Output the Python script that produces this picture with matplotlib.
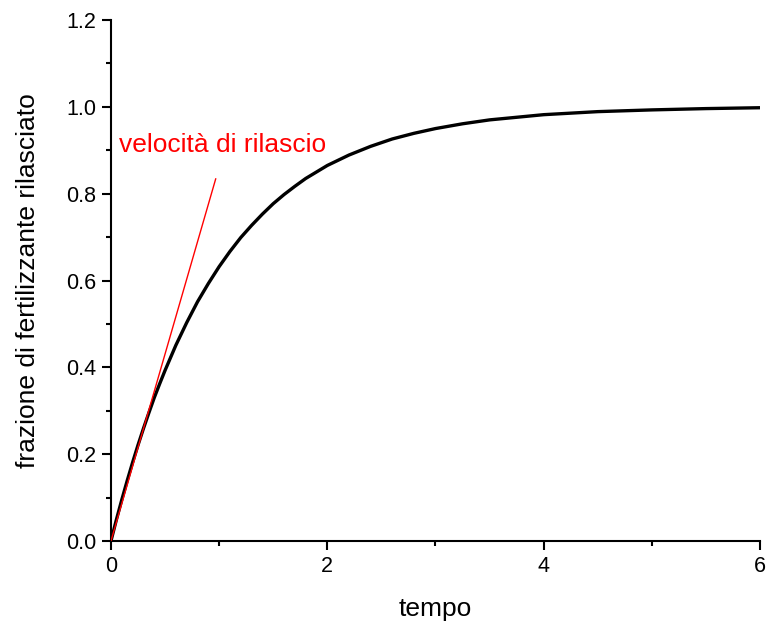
import matplotlib
matplotlib.use('Agg')
import matplotlib.pyplot as plt
from matplotlib.ticker import MultipleLocator, FormatStrFormatter

plt.rcParams['font.family'] = ['Liberation Sans', 'DejaVu Sans']

# curve
tempo = [0, 0.05, 0.1, 0.15, 0.2, 0.25, 0.3, 0.35, 0.4, 0.45, 0.5, 0.6, 0.7, 0.8,
         0.9, 1.0, 1.1, 1.2, 1.3, 1.4, 1.5, 1.6, 1.7, 1.8, 1.9, 2.0, 2.2, 2.4,
         2.6, 2.8, 3.0, 3.25, 3.5, 3.75, 4.0, 4.5, 5.0, 5.5, 6.0]
frazione = [0, 0.049, 0.095, 0.139, 0.181, 0.221, 0.259, 0.295, 0.330, 0.362,
            0.393, 0.451, 0.503, 0.551, 0.593, 0.632, 0.667, 0.699, 0.727, 0.753,
            0.777, 0.798, 0.817, 0.835, 0.850, 0.865, 0.889, 0.909, 0.926, 0.939,
            0.950, 0.961, 0.970, 0.976, 0.982, 0.989, 0.993, 0.996, 0.998]

# red tangent line
tang_x = [0, 0.968]
tang_y = [0, 0.834]

fig = plt.figure(figsize=(7.68, 6.26), dpi=100)
ax = fig.add_axes([0.1445, 0.1358, 0.8451, 0.8322])

ax.plot(tempo, frazione, color='black', lw=2.4, solid_joinstyle='round', zorder=3)
ax.plot(tang_x, tang_y, color='red', lw=1.0, zorder=4)
ax.text(0.074, 0.912, 'velocità di rilascio', color='red', fontsize=19,
        va='center', ha='left')

ax.set_xlim(0, 6)
ax.set_ylim(0, 1.2)
ax.xaxis.set_major_locator(MultipleLocator(2))
ax.xaxis.set_minor_locator(MultipleLocator(1))
ax.yaxis.set_major_locator(MultipleLocator(0.2))
ax.yaxis.set_minor_locator(MultipleLocator(0.1))
ax.yaxis.set_major_formatter(FormatStrFormatter('%.1f'))

for side in ['top', 'right']:
    ax.spines[side].set_visible(False)
for side in ['left', 'bottom']:
    ax.spines[side].set_linewidth(1.5)

ax.tick_params(which='major', direction='out', length=6.5, width=1.5,
               labelsize=15.5, pad=4)
ax.tick_params(which='minor', direction='out', length=3.5, width=1.5)

ax.set_xlabel('tempo', fontsize=19, labelpad=15)
ax.set_ylabel('frazione di fertilizzante rilasciato', fontsize=19, labelpad=19)

fig.savefig('out.png', dpi=100)
